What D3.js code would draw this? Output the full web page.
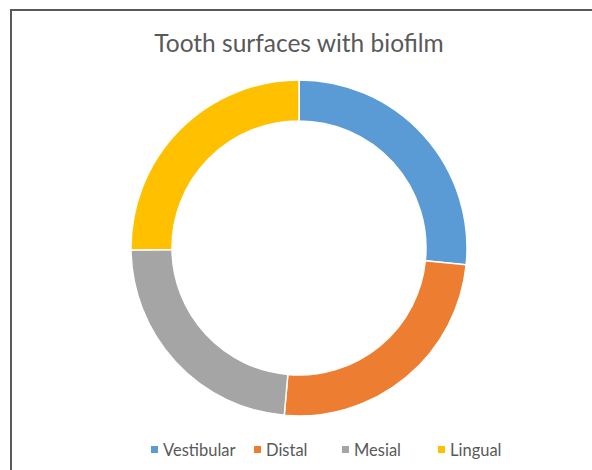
<!DOCTYPE html>
<html>
<head>
<meta charset="utf-8">
<script src="https://cdn.jsdelivr.net/npm/d3@7"></script>
<style>
  html, body { margin: 0; padding: 0; background: #ffffff; }
  svg { display: block; }
</style>
</head>
<body>
<svg id="chart" width="592" height="470"></svg>
<script>
// Share of tooth surfaces with biofilm
const surfaces = ["Vestibular", "Distal", "Mesial", "Lingual"];
const shares = [26.6, 24.8, 23.4, 25.2];
const palette = ["#5B9BD5", "#ED7D31", "#A5A5A5", "#FFC000"];
const chartTitle = "Tooth surfaces with biofilm";

const svg = d3.select("#chart");
const W = 592, H = 470;
const font = "Lato, 'Open Sans', sans-serif";

// chart area frame (only left and top edges fall inside the view)
svg.append("rect")
  .attr("x", 11).attr("y", 10)
  .attr("width", W).attr("height", H)
  .attr("fill", "#ffffff")
  .attr("stroke", "#595959")
  .attr("stroke-width", 2);

svg.append("text")
  .attr("x", 299).attr("y", 52)
  .attr("text-anchor", "middle")
  .attr("font-family", font)
  .attr("font-size", 24.5)
  .attr("fill", "#595959")
  .text(chartTitle);

const color = d3.scaleOrdinal().domain(surfaces).range(palette);
const data = surfaces.map((s, i) => ({ name: s, value: shares[i] }));

const pie = d3.pie().value(d => d.value).sort(null);
const outerR = 168, innerR = 127;
const arc = d3.arc().innerRadius(innerR).outerRadius(outerR);

const g = svg.append("g").attr("transform", "translate(299,248)");
g.selectAll("path")
  .data(pie(data))
  .join("path")
  .attr("d", arc)
  .attr("fill", d => color(d.data.name))
  .attr("stroke", "#ffffff")
  .attr("stroke-width", 1.5);

// legend
const legendX = [151, 254, 342, 438];
const legend = svg.append("g");
surfaces.forEach((s, i) => {
  legend.append("rect")
    .attr("x", legendX[i]).attr("y", 446)
    .attr("width", 7).attr("height", 7)
    .attr("fill", color(s));
  legend.append("text")
    .attr("x", legendX[i] + 12).attr("y", 455.5)
    .attr("font-family", font)
    .attr("font-size", 16.5)
    .attr("fill", "#595959")
    .text(s);
});
</script>
</body>
</html>
